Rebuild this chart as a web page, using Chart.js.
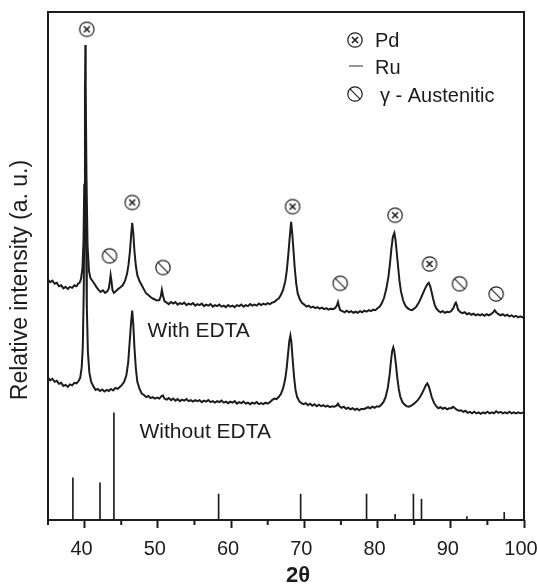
<!DOCTYPE html>
<html>
<head>
<meta charset="utf-8">
<script src="https://cdn.jsdelivr.net/npm/chart.js@4.4.0/dist/chart.umd.min.js"></script>
<style>
  html, body { margin: 0; padding: 0; background: #fff; }
</style>
</head>
<body>
<canvas id="xrdChart" width="538" height="585"></canvas>
<script>
// 2-theta axis
const majorTicks = [40, 50, 60, 70, 80, 90, 100]
const minorTicks = [35, 45, 55, 65, 75, 85, 95]

// pattern with EDTA (upper trace)
const withEdtaTheta = [
  35.0, 35.3, 35.6, 35.9, 36.2, 36.5, 36.8, 37.1, 37.4, 37.7,
  38.0, 38.3, 38.6, 38.9, 39.1, 39.3, 39.5, 39.7, 39.85, 39.95,
  40.05, 40.1, 40.15, 40.25, 40.4, 40.6, 40.8, 41.0, 41.3, 41.6,
  41.9, 42.2, 42.5, 42.8, 43.1, 43.3, 43.45, 43.55, 43.65, 43.8,
  44.0, 44.3, 44.6, 44.9, 45.2, 45.5, 45.8, 46.0, 46.2, 46.35,
  46.5, 46.65, 46.8, 47.0, 47.2, 47.5, 47.8, 48.1, 48.4, 48.7,
  49.0, 49.3, 49.6, 49.9, 50.2, 50.4, 50.55, 50.7, 50.9, 51.2,
  51.5, 51.8, 52.1, 52.4, 52.7, 53.0, 53.3, 53.6, 53.9, 54.2,
  54.5, 54.8, 55.1, 55.4, 55.7, 56.0, 56.3, 56.6, 56.9, 57.2,
  57.5, 57.8, 58.1, 58.4, 58.7, 59.0, 59.3, 59.6, 59.9, 60.2,
  60.5, 60.8, 61.1, 61.4, 61.7, 62.0, 62.3, 62.6, 62.9, 63.2,
  63.5, 63.8, 64.1, 64.4, 64.7, 65.0, 65.3, 65.6, 65.9, 66.2,
  66.5, 66.8, 67.1, 67.4, 67.6, 67.8, 68.0, 68.2, 68.35, 68.5,
  68.7, 68.9, 69.1, 69.4, 69.7, 70.0, 70.3, 70.6, 70.9, 71.2,
  71.5, 71.8, 72.1, 72.4, 72.7, 73.0, 73.3, 73.6, 73.9, 74.2,
  74.45, 74.6, 74.75, 74.9, 75.2, 75.5, 75.8, 76.1, 76.4, 76.7,
  77.0, 77.3, 77.6, 77.9, 78.2, 78.5, 78.8, 79.1, 79.4, 79.7,
  80.0, 80.3, 80.6, 80.9, 81.2, 81.5, 81.7, 81.9, 82.1, 82.3,
  82.45, 82.6, 82.8, 83.0, 83.2, 83.5, 83.8, 84.1, 84.4, 84.7,
  85.0, 85.3, 85.6, 85.9, 86.2, 86.5, 86.8, 87.0, 87.2, 87.4,
  87.6, 87.8, 88.0, 88.3, 88.6, 88.9, 89.2, 89.5, 89.8, 90.1,
  90.4, 90.55, 90.7, 90.85, 91.0, 91.3, 91.6, 91.9, 92.2, 92.5,
  92.8, 93.1, 93.4, 93.7, 94.0, 94.3, 94.6, 94.9, 95.2, 95.5,
  95.8, 96.0, 96.2, 96.5, 96.8, 97.1, 97.4, 97.7, 98.0, 98.3,
  98.6, 98.9, 99.2, 99.5, 99.8, 100.0
]
const withEdtaInt = [
  47.3, 46.8, 47.1, 46.5, 46.7, 46.0, 46.2, 45.6, 45.9, 45.5,
  45.9, 45.7, 46.2, 46.0, 46.5, 46.7, 47.4, 49.5, 55.0, 66.0,
  83.0, 93.5, 85.0, 68.0, 54.0, 49.0, 47.6, 47.2, 46.6, 45.9,
  45.3, 44.9, 45.2, 44.7, 45.0, 45.6, 47.0, 48.2, 47.2, 45.3,
  44.7, 45.1, 45.5, 45.8, 46.2, 47.0, 48.5, 50.3, 53.0, 56.0,
  58.5, 56.5, 53.0, 50.0, 48.2, 47.0, 46.2, 45.4, 44.6, 44.3,
  43.9, 43.6, 43.4, 43.2, 43.3, 44.0, 45.3, 44.2, 43.1, 42.8,
  42.5, 42.9, 42.6, 42.9, 42.4, 42.7, 42.5, 42.8, 42.3, 42.6,
  42.4, 42.7, 42.2, 42.5, 42.3, 42.6, 42.1, 42.4, 42.2, 42.5,
  42.0, 42.3, 42.1, 42.4, 42.0, 42.2, 41.9, 42.3, 42.0, 42.2,
  41.9, 42.3, 42.1, 42.4, 42.0, 42.3, 42.1, 42.5, 42.2, 42.4,
  42.2, 42.6, 42.3, 42.6, 42.4, 42.7, 42.5, 42.8, 42.9, 43.3,
  43.6, 44.3, 45.3, 47.0, 49.0, 52.0, 55.5, 58.7, 56.5, 53.5,
  49.5, 46.5, 44.6, 43.4, 42.7, 42.4, 42.0, 42.2, 41.8, 42.0,
  41.7, 41.9, 41.6, 41.8, 41.5, 41.7, 41.4, 41.6, 41.5, 41.7,
  42.2, 42.9, 42.0, 41.3, 41.1, 40.9, 41.2, 40.9, 41.1, 40.8,
  41.0, 40.8, 41.1, 40.9, 41.2, 41.0, 41.3, 41.1, 41.4, 41.3,
  41.7, 42.0, 42.7, 43.8, 45.5, 48.0, 50.5, 53.5, 55.8, 56.5,
  55.2, 53.0, 50.0, 47.0, 45.0, 43.2, 42.2, 41.7, 41.4, 41.3,
  41.6, 42.0, 42.7, 43.6, 44.6, 45.6, 46.4, 46.7, 46.0, 44.8,
  43.5, 42.4, 41.7, 41.2, 40.9, 41.1, 40.8, 41.0, 40.9, 41.2,
  41.8, 42.5, 42.8, 42.2, 41.4, 40.9, 40.7, 40.9, 40.5, 40.7,
  40.4, 40.6, 40.3, 40.5, 40.3, 40.5, 40.2, 40.5, 40.3, 40.5,
  40.9, 41.3, 40.9, 40.5, 40.3, 40.5, 40.2, 40.4, 40.1, 40.3,
  40.0, 40.2, 39.9, 40.1, 39.9, 40.0
]

// pattern without EDTA (lower trace)
const withoutEdtaTheta = [
  35.0, 35.3, 35.6, 35.9, 36.2, 36.5, 36.8, 37.1, 37.4, 37.7,
  38.0, 38.3, 38.6, 38.9, 39.2, 39.4, 39.6, 39.75, 39.88, 39.97,
  40.05, 40.12, 40.2, 40.3, 40.45, 40.65, 40.9, 41.2, 41.5, 41.8,
  42.1, 42.4, 42.7, 43.0, 43.3, 43.6, 43.9, 44.2, 44.5, 44.8,
  45.1, 45.4, 45.7, 45.95, 46.15, 46.35, 46.5, 46.65, 46.8, 47.0,
  47.2, 47.5, 47.8, 48.1, 48.4, 48.7, 49.0, 49.3, 49.6, 49.9,
  50.2, 50.5, 50.7, 50.9, 51.2, 51.5, 51.8, 52.1, 52.4, 52.7,
  53.0, 53.3, 53.6, 53.9, 54.2, 54.5, 54.8, 55.1, 55.4, 55.7,
  56.0, 56.3, 56.6, 56.9, 57.2, 57.5, 57.8, 58.1, 58.4, 58.7,
  59.0, 59.3, 59.6, 59.9, 60.2, 60.5, 60.8, 61.1, 61.4, 61.7,
  62.0, 62.3, 62.6, 62.9, 63.2, 63.5, 63.8, 64.1, 64.4, 64.7,
  65.0, 65.3, 65.6, 65.9, 66.2, 66.5, 66.8, 67.1, 67.4, 67.6,
  67.8, 67.95, 68.1, 68.25, 68.4, 68.6, 68.8, 69.0, 69.3, 69.6,
  69.9, 70.2, 70.5, 70.8, 71.1, 71.4, 71.7, 72.0, 72.3, 72.6,
  72.9, 73.2, 73.5, 73.8, 74.1, 74.4, 74.6, 74.8, 75.1, 75.4,
  75.7, 76.0, 76.3, 76.6, 76.9, 77.2, 77.5, 77.8, 78.1, 78.4,
  78.7, 79.0, 79.3, 79.6, 79.9, 80.2, 80.5, 80.8, 81.1, 81.4,
  81.65, 81.85, 82.0, 82.15, 82.3, 82.5, 82.7, 82.9, 83.1, 83.4,
  83.7, 84.0, 84.3, 84.6, 84.9, 85.2, 85.5, 85.8, 86.1, 86.4,
  86.6, 86.8, 87.0, 87.2, 87.4, 87.7, 88.0, 88.3, 88.6, 88.9,
  89.2, 89.5, 89.8, 90.1, 90.3, 90.5, 90.8, 91.1, 91.4, 91.7,
  92.0, 92.3, 92.6, 92.9, 93.2, 93.5, 93.8, 94.1, 94.4, 94.7,
  95.0, 95.3, 95.6, 95.9, 96.2, 96.5, 96.8, 97.1, 97.4, 97.7,
  98.0, 98.3, 98.6, 98.9, 99.2, 99.5, 99.8, 100.0
]
const withoutEdtaInt = [
  28.0, 27.5, 27.8, 27.2, 27.4, 26.8, 27.0, 26.4, 26.6, 26.2,
  26.7, 26.5, 27.0, 26.9, 27.4, 28.0, 30.0, 34.0, 45.0, 62.0,
  86.0, 72.0, 55.0, 42.0, 33.0, 29.0, 27.2, 26.3, 25.6, 25.8,
  25.4, 25.7, 25.3, 25.6, 25.4, 25.8, 25.5, 26.0, 25.8, 26.2,
  26.6, 27.2, 28.5, 31.0, 35.0, 39.0, 41.2, 38.5, 34.0, 29.8,
  27.2, 25.8, 24.9, 24.6, 24.2, 24.4, 24.0, 24.2, 23.9, 24.1,
  23.9, 24.4, 24.5, 23.9, 23.7, 24.0, 23.6, 23.9, 23.5, 23.8,
  23.4, 23.7, 23.5, 23.8, 23.4, 23.6, 23.3, 23.6, 23.4, 23.6,
  23.2, 23.5, 23.3, 23.6, 23.2, 23.4, 23.1, 23.4, 23.2, 23.5,
  23.1, 23.3, 23.0, 23.3, 23.1, 23.4, 22.9, 23.2, 23.0, 23.3,
  22.9, 23.1, 22.8, 23.1, 22.9, 23.2, 22.8, 23.0, 22.8, 23.1,
  22.9, 23.2, 23.6, 23.9, 23.8, 24.2, 24.8, 25.9, 27.8, 30.0,
  33.0, 35.2, 36.3, 34.8, 31.8, 28.2, 25.6, 24.3, 23.4, 23.0,
  22.8, 23.0, 22.6, 22.9, 22.5, 22.8, 22.4, 22.7, 22.4, 22.6,
  22.3, 22.5, 22.2, 22.4, 22.3, 22.5, 22.9, 22.4, 22.1, 22.3,
  21.9, 22.1, 21.8, 22.0, 21.7, 21.9, 21.6, 21.9, 21.8, 22.0,
  22.2, 22.0, 22.3, 22.1, 22.4, 22.3, 22.7, 23.2, 24.2, 26.0,
  28.6, 31.5, 33.3, 34.0, 33.2, 30.8, 28.0, 25.8, 24.3, 23.2,
  22.7, 22.4, 22.3, 22.5, 22.8, 23.2, 23.6, 24.2, 25.0, 25.9,
  26.5, 26.9, 26.3, 25.3, 24.2, 23.1, 22.4, 22.0, 22.2, 21.9,
  22.1, 21.8, 22.0, 22.0, 22.3, 22.1, 21.7, 21.5, 21.6, 21.3,
  21.5, 21.1, 21.3, 21.0, 21.3, 21.0, 21.2, 20.9, 21.2, 21.0,
  21.3, 21.0, 21.2, 21.0, 21.4, 21.1, 21.3, 21.0, 21.2, 21.0,
  21.3, 21.0, 21.2, 21.0, 21.2, 21.0, 21.1, 21.1
]

// Ru reference lines
const ruTheta = [38.4, 42.1, 44.0, 58.3, 69.5, 78.5, 82.4, 84.9, 86.0, 92.2, 97.3]
const ruInt = [8.3, 7.3, 21.1, 5.1, 5.1, 5.1, 1.1, 5.1, 4.1, 0.65, 1.5]

// phase markers over the EDTA peaks
const pdTheta = [40.3, 46.5, 68.4, 82.4, 87.1]
const pdInt = [96.6, 62.5, 61.7, 60.0, 50.4]
const austTheta = [43.4, 50.7, 74.9, 91.2, 96.2]
const austInt = [52.0, 49.7, 46.6, 46.5, 44.5]

const FONT = "'Liberation Sans', Arial, sans-serif"
const INK = '#1c1c1c'

const toPoints = (xs, ys) => xs.map((x, i) => ({ x: x, y: ys[i] }))

// circle symbols: crossed for Pd, slashed for austenite
function makeSymbol(slashed) {
  const c = document.createElement('canvas')
  c.width = 18
  c.height = 18
  const g = c.getContext('2d')
  g.strokeStyle = INK
  g.lineWidth = 1.2
  g.beginPath()
  g.arc(9, 9, 7.2, 0, Math.PI * 2)
  g.stroke()
  g.beginPath()
  if (slashed) {
    g.lineWidth = 1.1
    g.moveTo(3.9, 3.9)
    g.lineTo(14.1, 14.1)
  } else {
    g.lineWidth = 1.6
    g.moveTo(6.0, 6.0)
    g.lineTo(12.0, 12.0)
    g.moveTo(12.0, 6.0)
    g.lineTo(6.0, 12.0)
  }
  g.stroke()
  return c
}
const pdIcon = makeSymbol(false)
const austIcon = makeSymbol(true)

const decorations = {
  id: 'decorations',
  afterDraw(chart) {
    const { ctx, chartArea: a, scales: { x, y } } = chart
    ctx.save()

    // frame
    ctx.strokeStyle = INK
    ctx.lineWidth = 2
    ctx.strokeRect(a.left, a.top, a.right - a.left, a.bottom - a.top)

    // minor ticks
    ctx.beginPath()
    minorTicks.forEach(v => {
      const px = x.getPixelForValue(v)
      ctx.moveTo(px, a.bottom)
      ctx.lineTo(px, a.bottom + 5)
    })
    ctx.stroke()

    ctx.fillStyle = INK
    ctx.textBaseline = 'alphabetic'

    // trace labels
    ctx.font = '21px ' + FONT
    ctx.textAlign = 'left'
    ctx.fillText('With EDTA', x.getPixelForValue(48.6), y.getPixelForValue(36.1))
    ctx.fillText('Without EDTA', x.getPixelForValue(47.5), y.getPixelForValue(16.1))

    // legend
    ctx.font = '20px ' + FONT
    ctx.drawImage(pdIcon, 346, 31)
    ctx.fillText('Pd', 375, 47)
    ctx.strokeStyle = '#666'
    ctx.lineWidth = 1.4
    ctx.beginPath()
    ctx.moveTo(349, 66)
    ctx.lineTo(363, 66)
    ctx.stroke()
    ctx.fillText('Ru', 375, 74)
    ctx.drawImage(austIcon, 346, 85)
    ctx.fillText('\u03b3 - Austenitic', 380, 102)

    // axis titles
    ctx.font = 'bold 22px ' + FONT
    ctx.textAlign = 'center'
    ctx.fillText('2\u03b8', 298, 582)

    ctx.font = '23px ' + FONT
    ctx.translate(27, 280)
    ctx.rotate(-Math.PI / 2)
    ctx.fillText('Relative intensity (a. u.)', 0, 0)

    ctx.restore()
  }
}

const isMajor = c => !!(c.tick && majorTicks.includes(c.tick.value))

new Chart(document.getElementById('xrdChart'), {
  type: 'line',
  data: {
    datasets: [
      {
        type: 'bar',
        data: toPoints(ruTheta, ruInt),
        backgroundColor: INK,
        barThickness: 1,
        order: 3
      },
      {
        data: toPoints(withEdtaTheta, withEdtaInt),
        borderColor: INK,
        borderWidth: 2,
        pointRadius: 0,
        tension: 0
      },
      {
        data: toPoints(withoutEdtaTheta, withoutEdtaInt),
        borderColor: INK,
        borderWidth: 2,
        pointRadius: 0,
        tension: 0
      },
      {
        type: 'scatter',
        data: toPoints(pdTheta, pdInt),
        pointStyle: pdIcon,
        pointRadius: 8
      },
      {
        type: 'scatter',
        data: toPoints(austTheta, austInt),
        pointStyle: austIcon,
        pointRadius: 8
      }
    ]
  },
  options: {
    responsive: false,
    animation: false,
    events: [],
    layout: {
      padding: { left: 48, right: 14, top: 12, bottom: 0 }
    },
    plugins: {
      legend: { display: false },
      tooltip: { enabled: false }
    },
    scales: {
      x: {
        type: 'linear',
        min: 35,
        max: 100,
        offset: false,
        afterFit(scale) {
          scale.height = 65
          scale.paddingLeft = 0
          scale.paddingRight = 0
        },
        ticks: {
          stepSize: 5,
          autoSkip: false,
          maxRotation: 0,
          padding: 9,
          labelOffset: -3,
          color: INK,
          font: { family: FONT, size: 20 },
          callback: v => majorTicks.includes(v) ? String(v) : ''
        },
        grid: {
          offset: false,
          drawOnChartArea: false,
          tickLength: 8,
          tickWidth: 2,
          tickColor: c => isMajor(c) ? INK : 'rgba(0,0,0,0)'
        },
        border: { display: false }
      },
      y: {
        display: false,
        min: 0,
        max: 100
      }
    }
  },
  plugins: [decorations]
})
</script>
</body>
</html>
